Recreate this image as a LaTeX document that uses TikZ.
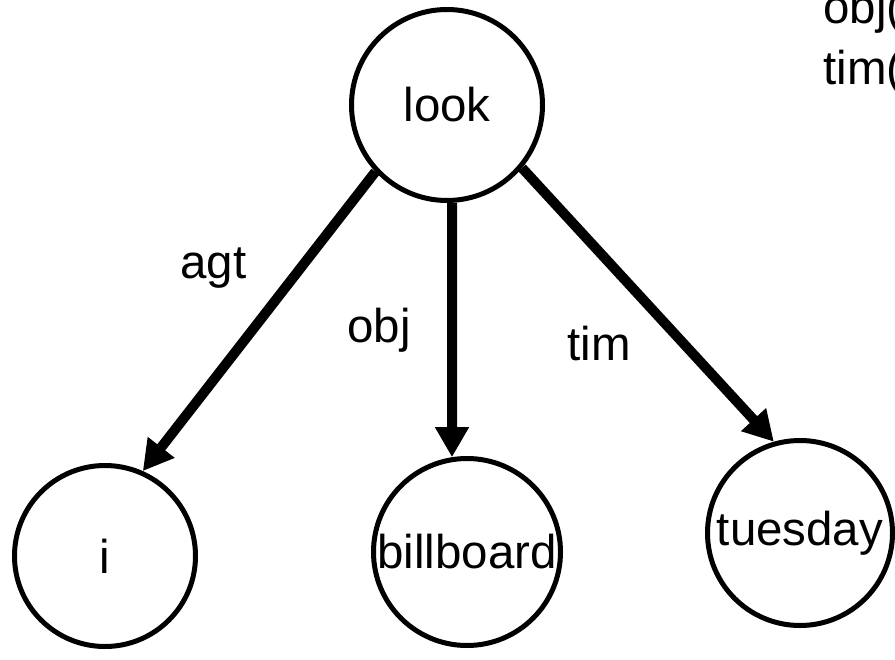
\documentclass[tikz,border=0pt]{standalone}
\usepackage{fontspec}
\setmainfont{Liberation Sans}
\usetikzlibrary{arrows.meta}
\tikzset{every node/.style={font=\fontsize{27}{32}\selectfont}}
\tikzset{word/.style={circle,draw,line width=0.1cm,inner sep=0pt},
         rel/.style={->,line width=0.2cm},
         lab/.style={anchor=base west,inner sep=0pt}}

\begin{document}
\begin{tikzpicture}[line cap=butt,line join=miter,>={Triangle[length=0.6cm,width=0.64cm]},x=1.0cm,y=1.0cm]
                    \clip (0,0) rectangle (17.9,13.18);
                    \node[word,minimum size=3.82cm] (look) at (8.94,11.08) {look};
                    \node[word,minimum size=3.62cm] (i) at (2.10,2.06) {i};
                    \node[word,minimum size=3.74cm] (billboard) at (9.34,2.14) {billboard};
                    \node[word,minimum size=3.70cm] (tuesday) at (16.00,2.52) {tuesday};
                    \draw[rel] (look.223) -- (i.66);
                    \draw[rel] (look.273) -- (billboard.99);
                    \draw[rel] (look.320) -- (tuesday.106);
                    \node[lab] (agtlab) at (3.60,7.62) {agt};
                    \node[lab] (objlab) at (6.94,6.34) {obj};
                    \node[lab] (timlab) at (11.34,5.98) {tim};
                    \node[lab] (objterm) at (16.46,12.70) {obj(};
                    \node[lab] (timterm) at (16.46,11.50) {tim(};
                    \end{tikzpicture}
\end{document}
